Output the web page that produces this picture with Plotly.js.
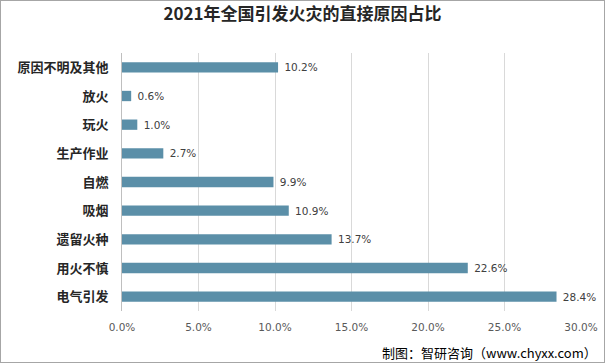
<!DOCTYPE html>
<html><head><meta charset="utf-8">
<script src="https://cdn.plot.ly/plotly-3.0.1.min.js"></script>
<style>html,body{margin:0;padding:0;background:#fff}#c{width:605px;height:363px;box-sizing:border-box;border:1px solid #a6a6a6}</style>
</head><body><div id="c"></div>
<script>
const categories = ['原因不明及其他','放火','玩火','生产作业','自燃','吸烟','遗留火种','用火不慎','电气引发'];
const values = [10.2, 0.6, 1.0, 2.7, 9.9, 10.9, 13.7, 22.6, 28.4];
const xTicks = [0, 5, 10, 15, 20, 25, 30];
const titleText = '2021年全国引发火灾的直接原因占比';
const sourceText = '制图：智研咨询（www.chyxx.com）';

const cjk = '"Noto Sans CJK SC", "Noto Sans", sans-serif';
Plotly.newPlot('c', [{
  type: 'bar', orientation: 'h',
  x: values, y: categories,
  marker: {color: '#5b8fa8', line: {width: 0}},
  width: 0.36,
  texttemplate: '\u00a0%{x:.1f}%',
  textposition: 'outside', cliponaxis: false, constraintext: 'none',
  textfont: {family: '"DejaVu Sans", sans-serif', size: 10.5, color: '#404040'},
  hoverinfo: 'none'
}], {
  width: 603, height: 361,
  margin: {l: 121, r: 23, t: 52, b: 51},
  paper_bgcolor: '#fff', plot_bgcolor: '#fff',
  title: {text: '<b>' + titleText + '</b>', x: 0.5, xanchor: 'center', y: 0.965, yanchor: 'middle',
          font: {family: cjk, size: 17, color: '#262626'}},
  xaxis: {range: [0, 30], tickvals: xTicks, ticktext: xTicks.map(v => v.toFixed(1) + '%'),
          showgrid: true, gridcolor: '#d9d9d9', gridwidth: 1, zeroline: false,
          showline: false, ticks: '', ticklabelstandoff: 8,
          tickfont: {family: '"DejaVu Sans", sans-serif', size: 10.5, color: '#595959'},
          fixedrange: true},
  yaxis: {autorange: 'reversed', showline: true, linecolor: '#bfbfbf', linewidth: 1,
          ticks: '', ticklabelstandoff: 10, tickfont: {family: cjk, size: 13, color: '#262626', weight: 'bold'},
          fixedrange: true},
  annotations: [{text: sourceText, xref: 'paper', yref: 'paper', x: 1.04, y: -0.159,
                 xanchor: 'right', yanchor: 'middle', showarrow: false,
                 font: {family: cjk, size: 13, color: '#000'}}],
  showlegend: false
}, {displayModeBar: false, staticPlot: true});
</script></body></html>
